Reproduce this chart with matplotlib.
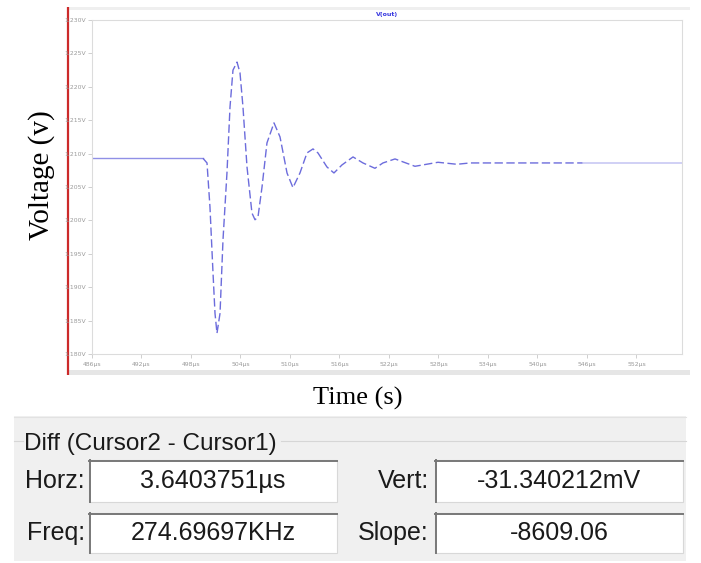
import matplotlib
matplotlib.use("Agg")
import matplotlib.pyplot as plt
from matplotlib.patches import Rectangle

# V(out) transient (time in us, volts)
time_us = [486.0, 499.45, 499.94, 500.30, 500.67, 500.91, 501.15, 501.52, 501.88,
           502.36, 502.73, 503.09, 503.58, 503.94, 504.30, 504.79, 505.39, 505.76,
           506.12, 506.61, 507.21, 508.06, 508.79, 509.64, 510.36, 511.21, 512.06,
           512.79, 513.39, 514.48, 515.33, 516.30, 517.64, 518.85, 520.30, 521.27,
           522.73, 525.15, 527.94, 530.24, 531.82, 545.52, 557.52]
vout = [1.2093, 1.2093, 1.2086, 1.2020, 1.1921, 1.1861, 1.1831, 1.1861, 1.1971,
        1.2071, 1.2170, 1.2225, 1.2237, 1.2221, 1.2170, 1.2080, 1.2011, 1.2001,
        1.2005, 1.2050, 1.2116, 1.2146, 1.2125, 1.2071, 1.2049, 1.2071, 1.2101,
        1.2107, 1.2101, 1.2080, 1.2071, 1.2083, 1.2095, 1.2086, 1.2078, 1.2086,
        1.2092, 1.2081, 1.2087, 1.2084, 1.2086, 1.2086, 1.2086]

volt_ticks = [1.180, 1.185, 1.190, 1.195, 1.200, 1.205, 1.210, 1.215, 1.220, 1.225, 1.230]
volt_labels = ["1.180V", "1.185V", "1.190V", "1.195V", "1.200V", "1.205V",
               "1.210V", "1.215V", "1.220V", "1.225V", "1.230V"]
time_ticks = [486, 492, 498, 504, 510, 516, 522, 528, 534, 540, 546, 552]
time_labels = ["486µs", "492µs", "498µs", "504µs", "510µs", "516µs",
               "522µs", "528µs", "534µs", "540µs", "546µs", "552µs"]

# cursor readout
readout_names = ["Horz:", "Vert:", "Freq:", "Slope:"]
readout_values = ["3.6403751µs", "-31.340212mV", "274.69697KHz", "-8609.06"]

W, H = 701, 563
fig = plt.figure(figsize=(W / 100, H / 100), dpi=100)

# pixel-space layer for the window chrome and the readout panel
bg = fig.add_axes([0, 0, 1, 1], zorder=0)
bg.set_xlim(0, W)
bg.set_ylim(H, 0)
bg.axis("off")

bg.add_patch(Rectangle((68, 7), 622, 3, color="#efefef", lw=0))
bg.add_patch(Rectangle((68, 370), 622, 5, color="#e6e6e6", lw=0))
bg.plot([68, 68], [7, 375], color="#cc2a2a", lw=1.6, solid_capstyle="butt")

bg.add_patch(Rectangle((14, 416), 672, 145, color="#f0f0f0", lw=0))
bg.plot([14, 686], [416.5, 416.5], color="#e2e2e2", lw=0.8)
bg.plot([14, 23], [441, 441], color="#d6d6d6", lw=0.8)
bg.plot([281, 686], [441, 441], color="#d6d6d6", lw=0.8)

ui_font = "Liberation Sans"
bg.text(24, 444, "Diff (Cursor2 - Cursor1)", fontsize=17.5, family=ui_font,
        color="#1a1a1a", ha="left", va="center")

box_x = [89, 435, 89, 435]
box_y = [460, 460, 513, 513]
box_w = [248, 248, 248, 248]
box_h = [42, 42, 40, 40]
label_right = [85, 429, 85, 429]
for name, val, bx, by, bw, bh, lr in zip(readout_names, readout_values, box_x, box_y,
                                         box_w, box_h, label_right):
    bg.add_patch(Rectangle((bx, by), bw, bh, facecolor="white", edgecolor="#d8d8d8", lw=0.8))
    bg.plot([bx, bx + bw], [by + 0.5, by + 0.5], color="#787878", lw=1.4)
    bg.plot([bx + 0.5, bx + 0.5], [by, by + bh], color="#787878", lw=1.4)
    bg.text(lr, by + bh / 2, name, fontsize=18, family=ui_font, color="#1a1a1a",
            ha="right", va="center")
    bg.text(bx + bw / 2, by + bh / 2, val, fontsize=18, family=ui_font, color="#1a1a1a",
            ha="center", va="center")

# waveform axes
ax = fig.add_axes([92 / W, 1 - 354 / H, 590 / W, 334 / H], zorder=2)
ax.set_facecolor("white")

i0, i1 = 1, 41
ax.plot(time_us[:i0 + 1], vout[:i0 + 1], color="#9090e6", lw=1.0)
ax.plot(time_us[i0:i1 + 1], vout[i0:i1 + 1], color="#6c6cdc", lw=1.0,
        linestyle=(0, (6, 2.5)))
ax.plot(time_us[i1:], vout[i1:], color="#c8c8f4", lw=1.2)

ax.set_xlim(486, 557.52)
ax.set_ylim(1.180, 1.230)
ax.set_xticks(time_ticks, time_labels)
ax.set_yticks(volt_ticks, volt_labels)
ax.tick_params(axis="both", labelsize=4.4, labelcolor="#9a9a9a", color="#c8c8c8",
               length=3, width=0.6, pad=1.5)
ax.tick_params(axis="x", pad=3)
for sp in ax.spines.values():
    sp.set_color("#dcdcdc")
    sp.set_linewidth(0.8)

ax.set_title("V(out)", fontsize=4.5, fontweight="bold", color="#3a3ae0", pad=3)

ax.set_xlabel("Time (s)", fontsize=19, family="Liberation Serif", color="black")
ax.xaxis.set_label_coords(0.451, -0.099)
ax.set_ylabel("Voltage (v)", fontsize=21, family="Liberation Serif", color="black")
ax.yaxis.set_label_coords(-0.063, 0.536)

fig.savefig("out.png", dpi=100)
